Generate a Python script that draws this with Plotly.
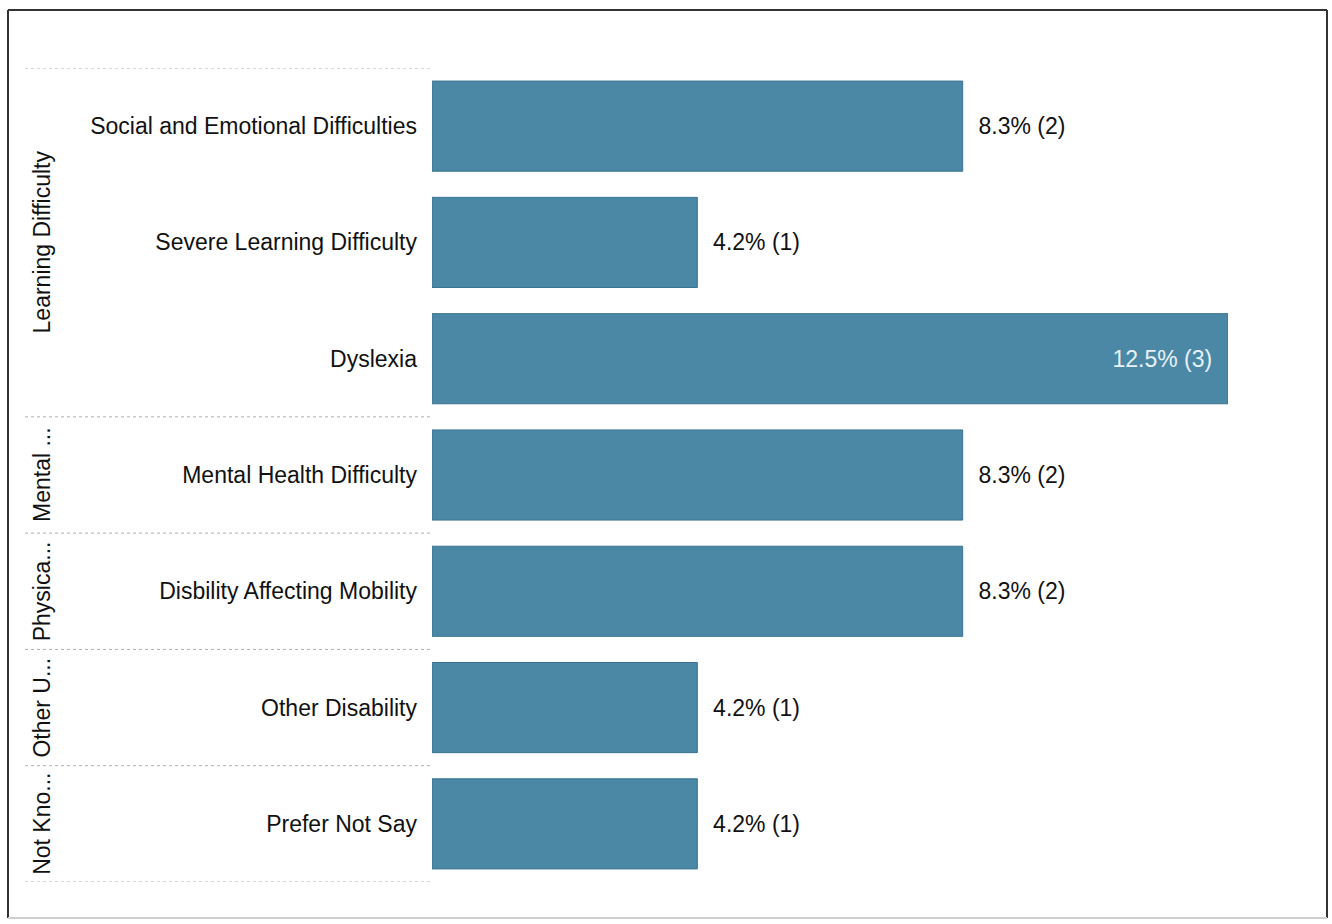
import plotly.graph_objects as go

categories = ["Social and Emotional Difficulties", "Severe Learning Difficulty", "Dyslexia",
              "Mental Health Difficulty", "Disbility Affecting Mobility", "Other Disability",
              "Prefer Not Say"]
counts = [2, 1, 3, 2, 2, 1, 1]
total = 24
groups = ["Learning Difficulty", "Mental ...", "Physica...", "Other U...", "Not Kno..."]
group_sizes = [3, 1, 1, 1, 1]

pct = [c / total * 100 for c in counts]
xmax = 12.5
positions = list(range(len(categories)))
labels = ["{:.1f}% ({})".format(p, c) for p, c in zip(pct, counts)]
inside = [p >= xmax - 0.01 for p in pct]
texts = [(l + "\u00a0\u00a0") if ins else ("\u00a0\u00a0" + l) for l, ins in zip(labels, inside)]
tpos = ["inside" if ins else "outside" for ins in inside]

L, R, T, B = 432, 1228, 68, 882
W, H = 1332, 924
pw, ph = R - L, B - T
def px(x):
    return (x - L) / pw
def py(y):
    return (B - y) / ph

FS = 23
fig = go.Figure(go.Bar(
    x=pct, y=positions, orientation="h",
    marker=dict(color="#4a88a6", line=dict(color="#3a7391", width=1)),
    text=texts, textposition=tpos, textangle=0,
    insidetextanchor="end",
    insidetextfont=dict(color="#e8f2f7", size=FS),
    outsidetextfont=dict(color="#111111", size=FS),
    cliponaxis=False, width=0.775,
))

shapes = []
annotations = []
start = 0
bounds = [-0.5]
for g, n in zip(groups, group_sizes):
    mid = start + (n - 1) / 2
    annotations.append(dict(x=px(42), y=mid, xref="paper", yref="y", text=g,
                            textangle=-90, showarrow=False, xanchor="center", yanchor="middle",
                            font=dict(size=FS, color="#111111")))
    start += n
    bounds.append(start - 0.5)
for b in bounds:
    shapes.append(dict(type="line", xref="paper", yref="y", x0=px(25), x1=0, y0=b, y1=b,
                       line=dict(color="#b0b0b0", width=1, dash="dot")))

# frame
fx0, fx1, fy0, fy1 = px(8), px(1327), py(918), py(10)
for x0, y0, x1, y1, col in [(fx0, fy1, fx1, fy1, "#333333"), (fx0, fy0, fx0, fy1, "#333333"),
                             (fx1, fy0, fx1, fy1, "#333333"), (fx0, fy0, fx1, fy0, "#d0d0d0")]:
    shapes.append(dict(type="line", xref="paper", yref="paper", x0=x0, y0=y0, x1=x1, y1=y1,
                       line=dict(color=col, width=2)))

fig.update_layout(
    width=W, height=H,
    margin=dict(l=L, r=W - R, t=T, b=H - B),
    paper_bgcolor="white", plot_bgcolor="white",
    font=dict(family="Liberation Sans, Arial, sans-serif", size=FS, color="#111111"),
    showlegend=False,
    xaxis=dict(range=[0, xmax], showgrid=False, zeroline=False, showticklabels=False,
               showline=False, ticks=""),
    yaxis=dict(range=[len(categories) - 0.5, -0.5], tickmode="array", tickvals=positions,
               ticktext=categories, showgrid=False, zeroline=False, showline=False,
               ticks="", ticklabelstandoff=14, tickfont=dict(size=FS, color="#111111")),
    shapes=shapes, annotations=annotations,
)

fig.write_html("out.html", config={"displayModeBar": False},
               post_script="document.body.style.margin='0';document.body.style.overflow='hidden';")
